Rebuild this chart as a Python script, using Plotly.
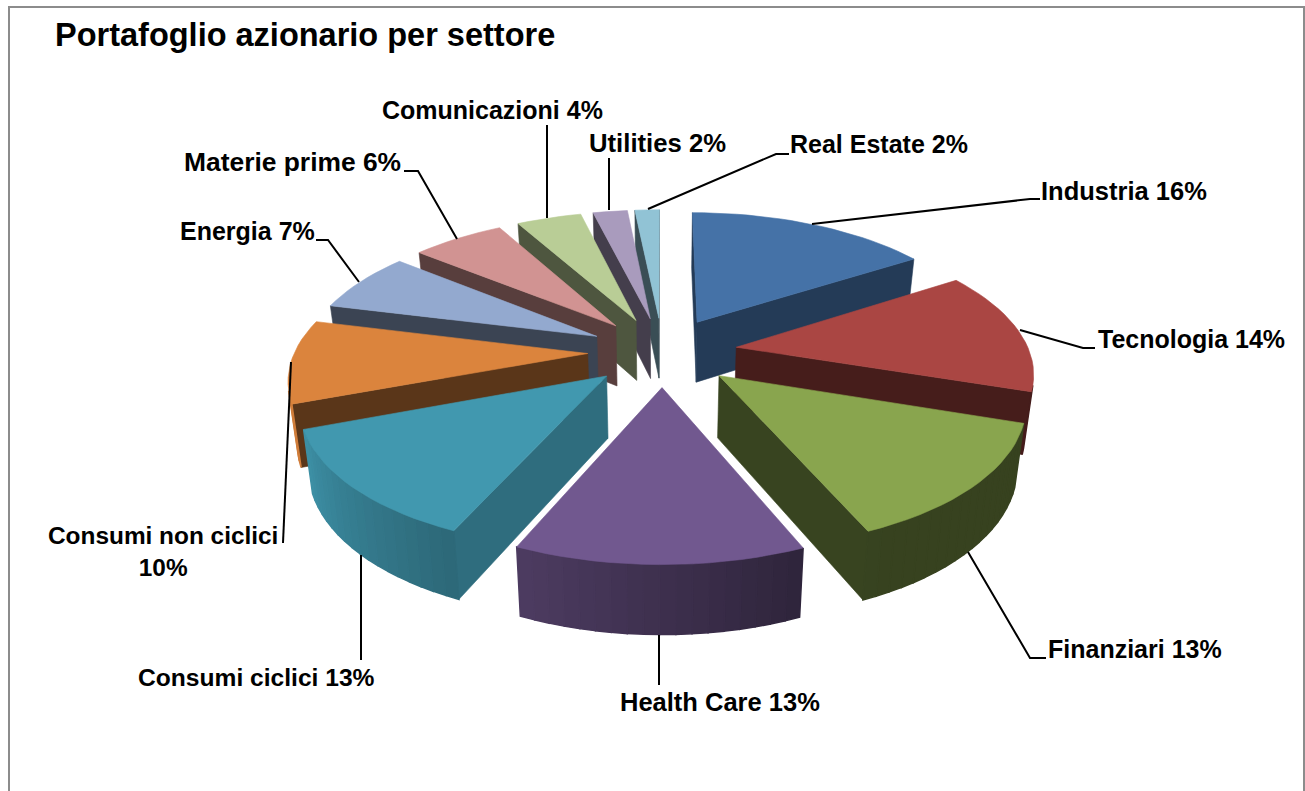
import math
import plotly.graph_objects as go

title = "Portafoglio azionario per settore"
sectors = ["Industria", "Tecnologia", "Finanziari", "Health Care", "Consumi ciclici",
           "Consumi non ciclici", "Energia", "Materie prime", "Comunicazioni", "Utilities", "Real Estate"]
shares = [15.9, 14.2, 13.5, 13.0, 12.7, 9.6, 6.95, 6.05, 4.25, 2.25, 1.6]
colors = ["#4572A7", "#AA4643", "#89A54E", "#71588F", "#4198AF", "#DB843D",
          "#93A9CF", "#D19392", "#B9CD96", "#A99BBD", "#91C3D5"]
wall_shade = [0.52, 0.41, 0.41, 0.45, 0.72, 0.41, 0.40, 0.42, 0.42, 0.40, 0.40]
draw_order = [10, 9, 8, 7, 6, 5, 0, 1, 2, 4, 3]

# label text positions (centre x, centre y) and sizes
label_text = ["Industria 16%", "Tecnologia 14%", "Finanziari 13%", "Health Care 13%", "Consumi ciclici 13%",
              "Consumi non ciclici<br>10%", "Energia 7%", "Materie prime 6%", "Comunicazioni 4%", "Utilities 2%", "Real Estate 2%"]
label_x = [1124, 1191, 1135, 720, 256, 163, 247, 292, 492, 657, 879]
label_y = [191, 339, 649, 702, 677, 551, 231, 162, 110, 143, 144]
label_size = [25.5, 25, 25, 25.5, 24.6, 24.4, 25, 26.4, 25, 25.7, 25]
leader_x = [[812, 1030, 1040], [1020, 1083, 1095], [968, 1030, 1046], [659, 659], [361, 361],
            [291, 283], [359, 328, 316], [457, 418, 404], [547, 547], [609, 609], [648, 776, 789]]
leader_y = [[224, 199, 199], [330, 348, 348], [552, 658, 658], [635, 685], [555, 660],
            [362, 543], [282, 240, 240], [239, 171, 171], [218, 125], [210, 158], [209, 154, 154]]

# view parameters
XV, Y_H, K = 662.5, -496.5, 0.3455
S0, A, PULL = 293.0, 0.16, 0.255
H_A, H_B, CONV = 0.12, 26.0, 0.975


def project(X, Y, bottom=False):
    s = S0 / (1 + A * Y)
    x, y = XV + X * s, Y_H + s / K
    if bottom:
        y += H_A * s + H_B
        x = XV + (x - XV) * CONV
    return x, y


def shade(hex_color, f):
    r, g, b = (int(hex_color[i:i + 2], 16) for i in (1, 3, 5))
    return f"rgb({r * f:.0f},{g * f:.0f},{b * f:.0f})"


def outer_shade(deg):
    # light comes from the left of the pie
    if deg < 155:
        return 0.40
    if deg > 250:
        return 0.95
    return 0.40 + (deg - 155) / 95 * 0.55


def poly(xs, ys, color, lw=0.6):
    return go.Scatter(x=list(xs) + [xs[0]], y=list(ys) + [ys[0]], mode="lines", fill="toself",
                      fillcolor=color, line=dict(color=color, width=lw), hoverinfo="skip", showlegend=False)


def visible(pts):
    area = 0
    for i in range(len(pts)):
        x1, y1 = pts[i]
        x2, y2 = pts[(i + 1) % len(pts)]
        area += x1 * y2 - x2 * y1
    return area < 0


fig = go.Figure()
total = sum(shares)
starts = [sum(shares[:i]) / total * 360 for i in range(len(shares))]

for i in draw_order:
    a0 = starts[i]
    a1 = a0 + shares[i] / total * 360
    mid = math.radians((a0 + a1) / 2)
    ox, oy = PULL * math.sin(mid), PULL * math.cos(mid)
    n = max(2, int((a1 - a0) / 2.5))
    angs = [a0 + (a1 - a0) * k / n for k in range(n + 1)]
    rim = [(ox + math.sin(math.radians(t)), oy + math.cos(math.radians(t))) for t in angs]
    apex = (ox, oy)
    # radial walls
    for p, q in ((apex, rim[0]), (rim[-1], apex)):
        pts = [project(*p), project(*q), project(*q, bottom=True), project(*p, bottom=True)]
        if visible(pts):
            fig.add_trace(poly([c[0] for c in pts], [c[1] for c in pts], shade(colors[i], wall_shade[i])))
    # outer wall strips
    for k in range(n):
        p, q = rim[k], rim[k + 1]
        pts = [project(*p), project(*q), project(*q, bottom=True), project(*p, bottom=True)]
        if visible(pts):
            fig.add_trace(poly([c[0] for c in pts], [c[1] for c in pts],
                               shade(colors[i], outer_shade((angs[k] + angs[k + 1]) / 2)), lw=1.5))
    top = [project(*apex)] + [project(*r) for r in rim]
    fig.add_trace(poly([c[0] for c in top], [c[1] for c in top], colors[i]))

for lx, ly in zip(leader_x, leader_y):
    fig.add_trace(go.Scatter(x=lx, y=ly, mode="lines", line=dict(color="black", width=2),
                             hoverinfo="skip", showlegend=False))

FONT = "Liberation Sans"
anns = [dict(x=53, y=35, text=f"<b>{title}</b>", showarrow=False, xanchor="left", yanchor="middle",
             font=dict(family=FONT, size=32.5, color="black"))]
for t, x, y, sz in zip(label_text, label_x, label_y, label_size):
    anns.append(dict(x=x, y=y, text=f"<b>{t}</b>", showarrow=False, xanchor="center", yanchor="middle",
                     font=dict(family=FONT, size=sz, color="black")))

border = dict(type="path", path="M 9 791 L 9 7 L 1304 7 L 1304 791",
              line=dict(color="#8c8c8c", width=2))

fig.update_layout(
    width=1305, height=791, margin=dict(l=0, r=0, t=0, b=0),
    paper_bgcolor="white", plot_bgcolor="white", showlegend=False,
    xaxis=dict(range=[0, 1305], visible=False, fixedrange=True),
    yaxis=dict(range=[791, 0], visible=False, fixedrange=True),
    annotations=anns, shapes=[border],
)
fig.write_html("out.html", post_script="document.body.style.margin='0';document.body.style.overflow='hidden';",
               config=dict(displayModeBar=False))
